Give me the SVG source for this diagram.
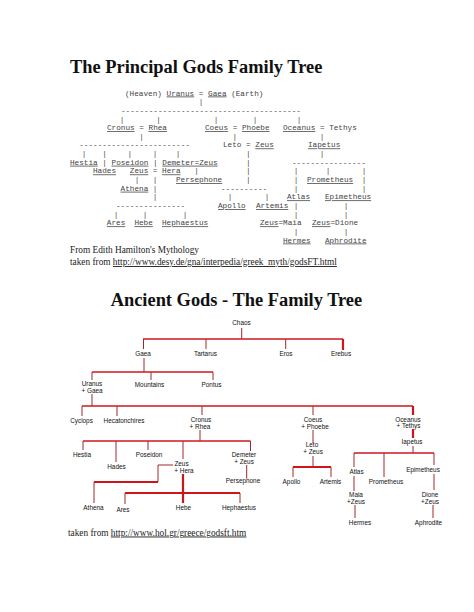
<svg xmlns="http://www.w3.org/2000/svg" width="474" height="612" viewBox="0 0 474 612">
<style>
.t{font-family:"Liberation Serif","Times New Roman",serif;font-weight:bold;font-size:18.4px;fill:#111}
.f{font-family:"Liberation Serif","Times New Roman",serif;font-size:9.3px;fill:#222}
.m{font-family:"Liberation Mono","Courier New",monospace;font-size:7.7px;fill:#444;white-space:pre}
.c{text-anchor:middle}
.u{text-decoration:underline}
.n{font-family:"Liberation Sans",Arial,sans-serif;font-size:6.4px;fill:#111;text-anchor:middle}
.v{stroke:#a3262a;stroke-width:1;fill:none}
.h{stroke:#cc1a22;stroke-width:1.6;fill:none}
.k{stroke:#d0141c;stroke-width:2.2;fill:none}
</style>
<rect width="474" height="612" fill="#fff"/>

<text class="t" x="70" y="73">The Principal Gods Family Tree</text>

<g id="ascii-tree" class="m">
<text x="125" y="95.5" xml:space="preserve">(Heaven) <tspan class="u">Uranus</tspan> = <tspan class="u">Gaea</tspan> (Earth)</text>
<text class="c" x="201" y="104.2">|</text>
<text x="121" y="112.8">---------------------------------------</text>
<text class="c" x="122" y="121.5">|</text><text class="c" x="158.5" y="121.5">|</text><text class="c" x="216" y="121.5">|</text><text class="c" x="255" y="121.5">|</text><text class="c" x="299" y="121.5">|</text>
<text x="107" y="130.1" xml:space="preserve"><tspan class="u">Cronus</tspan> = <tspan class="u">Rhea</tspan></text>
<text x="205" y="130.1" xml:space="preserve"><tspan class="u">Coeus</tspan> = <tspan class="u">Phoebe</tspan></text>
<text x="283" y="130.1" xml:space="preserve"><tspan class="u">Oceanus</tspan> = Tethys</text>
<text class="c" x="141.5" y="138.8">|</text><text class="c" x="234.9" y="138.8">|</text><text class="c" x="322.1" y="138.8">|</text>
<text x="79.2" y="147.4">------------------------</text>
<text x="223" y="147.4" xml:space="preserve">Leto = <tspan class="u">Zeus</tspan></text>
<text class="u" x="308" y="147.4">Iapetus</text>
<text class="c" x="84" y="156.1">|</text><text class="c" x="104.5" y="156.1">|</text><text class="c" x="129.8" y="156.1">|</text><text class="c" x="155" y="156.1">|</text><text class="c" x="178" y="156.1">|</text><text class="c" x="248.3" y="156.1">|</text><text class="c" x="322" y="156.1">|</text>
<text x="70" y="164.7" xml:space="preserve"><tspan class="u">Hestia</tspan> | <tspan class="u">Poseidon</tspan> | <tspan class="u">Demeter=Zeus</tspan></text>
<text class="c" x="248.3" y="164.7">|</text>
<text x="292" y="164.7">----------------</text>
<text class="u" x="93" y="173.4">Hades</text>
<text x="129.8" y="173.4" xml:space="preserve"><tspan class="u">Zeus</tspan> = <tspan class="u">Hera</tspan></text>
<text class="c" x="196.5" y="173.4">|</text><text class="c" x="248.3" y="173.4">|</text><text class="c" x="296" y="173.4">|</text><text class="c" x="328" y="173.4">|</text><text class="c" x="364" y="173.4">|</text>
<text class="c" x="137" y="182">|</text><text class="c" x="155" y="182">|</text>
<text class="u" x="176" y="182">Persephone</text>
<text class="c" x="248.3" y="182">|</text><text class="c" x="296" y="182">|</text>
<text class="u" x="307" y="182">Prometheus</text>
<text class="c" x="364" y="182">|</text>
<text class="u" x="120.6" y="190.7">Athena</text>
<text class="c" x="155" y="190.7">|</text>
<text x="221" y="190.7">----------</text>
<text class="c" x="296" y="190.7">|</text><text class="c" x="364" y="190.7">|</text>
<text class="c" x="155" y="199.3">|</text><text class="c" x="230" y="199.3">|</text><text class="c" x="267" y="199.3">|</text>
<text class="u" x="287" y="199.3">Atlas</text>
<text class="u" x="325" y="199.3">Epimetheus</text>
<text x="116" y="208">---------------</text>
<text class="u" x="218" y="208">Apollo</text>
<text class="u" x="256" y="208">Artemis</text>
<text class="c" x="296" y="208">|</text><text class="c" x="346" y="208">|</text>
<text class="c" x="116" y="216.6">|</text><text class="c" x="145" y="216.6">|</text><text class="c" x="185" y="216.6">|</text><text class="c" x="296" y="216.6">|</text><text class="c" x="346" y="216.6">|</text>
<text class="u" x="106.8" y="225.3">Ares</text>
<text class="u" x="134.4" y="225.3">Hebe</text>
<text class="u" x="162" y="225.3">Hephaestus</text>
<text x="260" y="225.3"><tspan class="u">Zeus</tspan>=Maia</text>
<text x="312" y="225.3"><tspan class="u">Zeus</tspan>=Dione</text>
<text class="c" x="296" y="233.9">|</text><text class="c" x="346" y="233.9">|</text>
<text class="u" x="283" y="242.5">Hermes</text>
<text class="u" x="325" y="242.5">Aphrodite</text>
</g>

<text class="f" x="70" y="252.5">From Edith Hamilton's Mythology</text>
<text class="f" x="70" y="265" xml:space="preserve">taken from <tspan class="u">http://www.desy.de/gna/interpedia/greek_myth/godsFT.html</tspan></text>

<text class="t" x="110.7" y="306">Ancient Gods - The Family Tree</text>

<g id="connectors">
<path class="v" d="M241.7 328V339M143.5 339V349M206 339V349M285.7 339V349M144 358V372M92 372V380M151 372V380M213 372V380M92 394V406M82 406V416M117 406V416M202 406V415M313 406V415M200 430V441M83 441V450M116 441V462M148 441V450M183 441V459M250.5 441V451M246.7 465V478M313 430V443M313 456V467M293 467V477M331 467V477M413 446V453M354 453V467M384 453V477M434 453V465M354 476V491M355 505V518M434 474V490M433 505V518M173 465H158V482M94 482V503M125 493V504M240 493V503"/>
<path class="h" d="M143 339H343M92 372H213M82 406H413M83 441H250.5M354 453H434"/>
<path class="k" d="M343 339V350M413 406V415M413 429V438M293 467H331M94 482H158M183 474V503M125 493H240"/>
</g>

<g id="chaos"><text class="n" x="241.5" y="325">Chaos</text></g>
<g id="gaea"><text class="n" x="143" y="356">Gaea</text></g>
<g id="tartarus"><text class="n" x="205.5" y="356">Tartarus</text></g>
<g id="eros"><text class="n" x="286" y="356">Eros</text></g>
<g id="erebus"><text class="n" x="341" y="356">Erebus</text></g>
<g id="uranus-gaea"><text class="n" x="92" y="386">Uranus</text><text class="n" x="92" y="392.5">+ Gaea</text></g>
<g id="mountains"><text class="n" x="149.5" y="387">Mountains</text></g>
<g id="pontus"><text class="n" x="211.5" y="387">Pontus</text></g>
<g id="cyclops"><text class="n" x="81.5" y="423">Cyclops</text></g>
<g id="hecatonchires"><text class="n" x="124" y="423">Hecatonchires</text></g>
<g id="cronus-rhea"><text class="n" x="201" y="422">Cronus</text><text class="n" x="200" y="428.5">+ Rhea</text></g>
<g id="coeus-phoebe"><text class="n" x="313" y="422">Coeus</text><text class="n" x="315" y="428.5">+ Phoebe</text></g>
<g id="oceanus-tethys"><text class="n" x="408" y="421.5">Oceanus</text><text class="n" x="408.5" y="427.5">+ Tethys</text></g>
<g id="hestia"><text class="n" x="82" y="457">Hestia</text></g>
<g id="hades"><text class="n" x="116.5" y="469">Hades</text></g>
<g id="poseidon"><text class="n" x="149" y="457">Poseidon</text></g>
<g id="zeus-hera"><text class="n" x="181.5" y="466">Zeus</text><text class="n" x="184" y="473">+ Hera</text></g>
<g id="demeter-zeus"><text class="n" x="244" y="457">Demeter</text><text class="n" x="244" y="463.5">+ Zeus</text></g>
<g id="persephone"><text class="n" x="243" y="483">Persephone</text></g>
<g id="leto-zeus"><text class="n" x="312" y="447">Leto</text><text class="n" x="313" y="454">+ Zeus</text></g>
<g id="apollo"><text class="n" x="291.5" y="484">Apollo</text></g>
<g id="artemis"><text class="n" x="330.5" y="484">Artemis</text></g>
<g id="iapetus"><text class="n" x="412" y="444">Iapetus</text></g>
<g id="atlas"><text class="n" x="356.5" y="474">Atlas</text></g>
<g id="prometheus"><text class="n" x="386" y="484">Prometheus</text></g>
<g id="epimetheus"><text class="n" x="423" y="472">Epimetheus</text></g>
<g id="maia-zeus"><text class="n" x="356" y="497">Maia</text><text class="n" x="356" y="504">+Zeus</text></g>
<g id="dione-zeus"><text class="n" x="430" y="497">Dione</text><text class="n" x="430" y="504">+Zeus</text></g>
<g id="hermes"><text class="n" x="360" y="525">Hermes</text></g>
<g id="aphrodite"><text class="n" x="428.5" y="525">Aphrodite</text></g>
<g id="athena"><text class="n" x="93.5" y="510">Athena</text></g>
<g id="ares"><text class="n" x="123" y="511.5">Ares</text></g>
<g id="hebe"><text class="n" x="183.5" y="510">Hebe</text></g>
<g id="hephaestus"><text class="n" x="239" y="510">Hephaestus</text></g>

<text class="f" x="68" y="535.5" xml:space="preserve">taken from <tspan class="u">http://www.hol.gr/greece/godsft.htm</tspan></text>
</svg>
